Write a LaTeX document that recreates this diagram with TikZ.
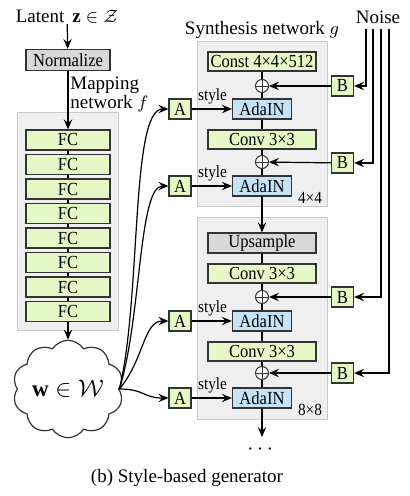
\documentclass[tikz,border=0pt]{standalone}
\usepackage{amsmath}
\usepackage{amssymb}
\usepackage{fontspec}
\setmainfont{Liberation Serif}
\newfontfamily\boxfont[FakeStretch=0.9]{Liberation Serif}
\usetikzlibrary{arrows.meta,shapes.symbols}

\definecolor{boxgreen}{HTML}{E4F7C4}
\definecolor{boxblue}{HTML}{C6E2F6}
\definecolor{boxgray}{HTML}{D8D8D8}
\definecolor{panelgray}{HTML}{EFEFEF}
\definecolor{paneledge}{HTML}{C9C9C9}

\tikzset{
  blk/.style={draw=black!80, line width=0.6pt, inner sep=0pt, font=\boxfont\fontsize{9.2}{9.2}\selectfont},
  fcbox/.style={blk, fill=boxgreen, minimum width=42pt, minimum height=10pt},
  normbox/.style={blk, fill=boxgray, minimum width=42pt, minimum height=10.5pt},
  convbox/.style={blk, fill=boxgreen, minimum width=54pt, minimum height=9.5pt},
  upbox/.style={blk, fill=boxgray, minimum width=54pt, minimum height=10pt},
  adabox/.style={blk, fill=boxblue, minimum width=29.5pt, minimum height=10pt},
  affbox/.style={blk, fill=boxgreen, minimum width=11pt, minimum height=10pt},
  addnode/.style={circle, draw=black!80, fill=white, line width=0.5pt, minimum size=6.5pt, inner sep=0pt,
    path picture={\draw[line width=0.4pt] (path picture bounding box.north) -- (path picture bounding box.south)
      (path picture bounding box.west) -- (path picture bounding box.east);}},
  panel/.style={fill=panelgray, draw=paneledge, line width=0.5pt},
  lbl/.style={inner sep=0pt, font=\fontsize{9.5}{9.5}\selectfont},
  tag/.style={inner sep=0pt, font=\boxfont\fontsize{8.5}{8.5}\selectfont},
  link/.style={line width=0.55pt},
  arr/.style={line width=0.6pt, -{Stealth[length=5pt,width=4.2pt,inset=1.8pt]}}
}

\begin{document}
\begin{tikzpicture}[x=0.5pt,y=-0.5pt]
  \useasboundingbox (0,0) rectangle (410,496);

  % panels
  \draw[panel] (17,113) rectangle (118,330);
  \draw[panel] (197,42) rectangle (327,207);
  \draw[panel] (197,218) rectangle (327,419);

  % mapping network
  \node[lbl] (lat) at (67,17) {Latent \,$\mathbf{z}\in\mathcal{Z}$};
  \node[normbox] (norm) at (68,60) {Normalize};
  \node[lbl, anchor=north west, align=left] (mapl) at (70,77) {Mapping\\network $f$};
  \foreach \i in {1,...,8}
    \node[fcbox] (fc\i) at (68,{115.5+24.5*\i}) {FC};
  \foreach \i [count=\j from 2] in {1,...,7}
    \draw[link] (fc\i) -- (fc\j);
  \node[cloud, draw=black!80, fill=white, line width=0.6pt, cloud puffs=10, cloud puff arc=115,
    aspect=1.2, minimum width=52pt, minimum height=42pt, inner sep=0pt] (w) at (68,389)
    {\fontsize{11.5}{11.5}\selectfont$\mathbf{w}\in\mathcal{W}$};
  \draw[arr] (lat) -- (norm);
  \draw[arr] (norm) -- (fc1);
  \draw[arr] (fc8) -- (w);

  % synthesis network
  \node[lbl] (synl) at (262,30) {Synthesis network $g$};
  \node[convbox] (const) at (262,61.5) {Const 4×4×512};
  \node[addnode] (p1) at (262,86) {};
  \node[adabox] (ada1) at (262,109) {AdaIN};
  \node[convbox] (conv1) at (262,139.5) {Conv 3×3};
  \node[addnode] (p2) at (262,162) {};
  \node[adabox] (ada2) at (262,186) {AdaIN};
  \node[tag] (r4) at (310,198) {4×4};
  \node[upbox] (ups) at (262,243) {Upsample};
  \node[convbox] (conv2) at (262,273.5) {Conv 3×3};
  \node[addnode] (p3) at (262,297) {};
  \node[adabox] (ada3) at (262,321) {AdaIN};
  \node[convbox] (conv3) at (262,351.5) {Conv 3×3};
  \node[addnode] (p4) at (262,373) {};
  \node[adabox] (ada4) at (262,398) {AdaIN};
  \node[tag] (r8) at (310,410) {8×8};
  \coordinate (gout) at (262,437);
  \node[inner sep=0pt, font=\fontsize{11}{11}\selectfont] (more) at (262,450) {$\cdots$};

  \foreach \u/\v in {const/p1, p1/ada1, ada1/conv1, conv1/p2, p2/ada2,
      ups/conv2, conv2/p3, p3/ada3, ada3/conv3, conv3/p4, p4/ada4}
    \draw[link] (\u) -- (\v);
  \draw[arr] (ada2) -- (ups);
  \draw[arr] (ada4) -- (gout);

  % styles
  \foreach \i/\y in {1/109, 2/186, 3/321, 4/398} {
    \node[affbox] (a\i) at (180,\y) {A};
    \draw[arr] (a\i) -- node[tag, above=2pt, pos=0.52] {style} (ada\i);
  }
  \draw[arr] (w.east) .. controls +(22,-90) and +(-38,0) .. (a1.west);
  \draw[arr] (w.east) .. controls +(22,-70) and +(-30,0) .. (a2.west);
  \draw[arr] (w.east) .. controls +(25,-30) and +(-25,0) .. (a3.west);
  \draw[arr] (w.east) .. controls +(25,0) and +(-25,0) .. (a4.west);

  % noise
  \node[lbl] (noise) at (378,17) {Noise};
  \foreach \i/\x/\y in {1/366/86, 2/373/163, 3/381/297, 4/389/373} {
    \node[affbox] (b\i) at (342.5,\y) {B};
    \coordinate (n\i) at (\x,29);
    \draw[arr] (n\i) |- (b\i);
    \draw[arr] (b\i) -- (p\i);
  }

  \node[lbl] (cap) at (187,478) {(b) Style-based generator};
\end{tikzpicture}
\end{document}
